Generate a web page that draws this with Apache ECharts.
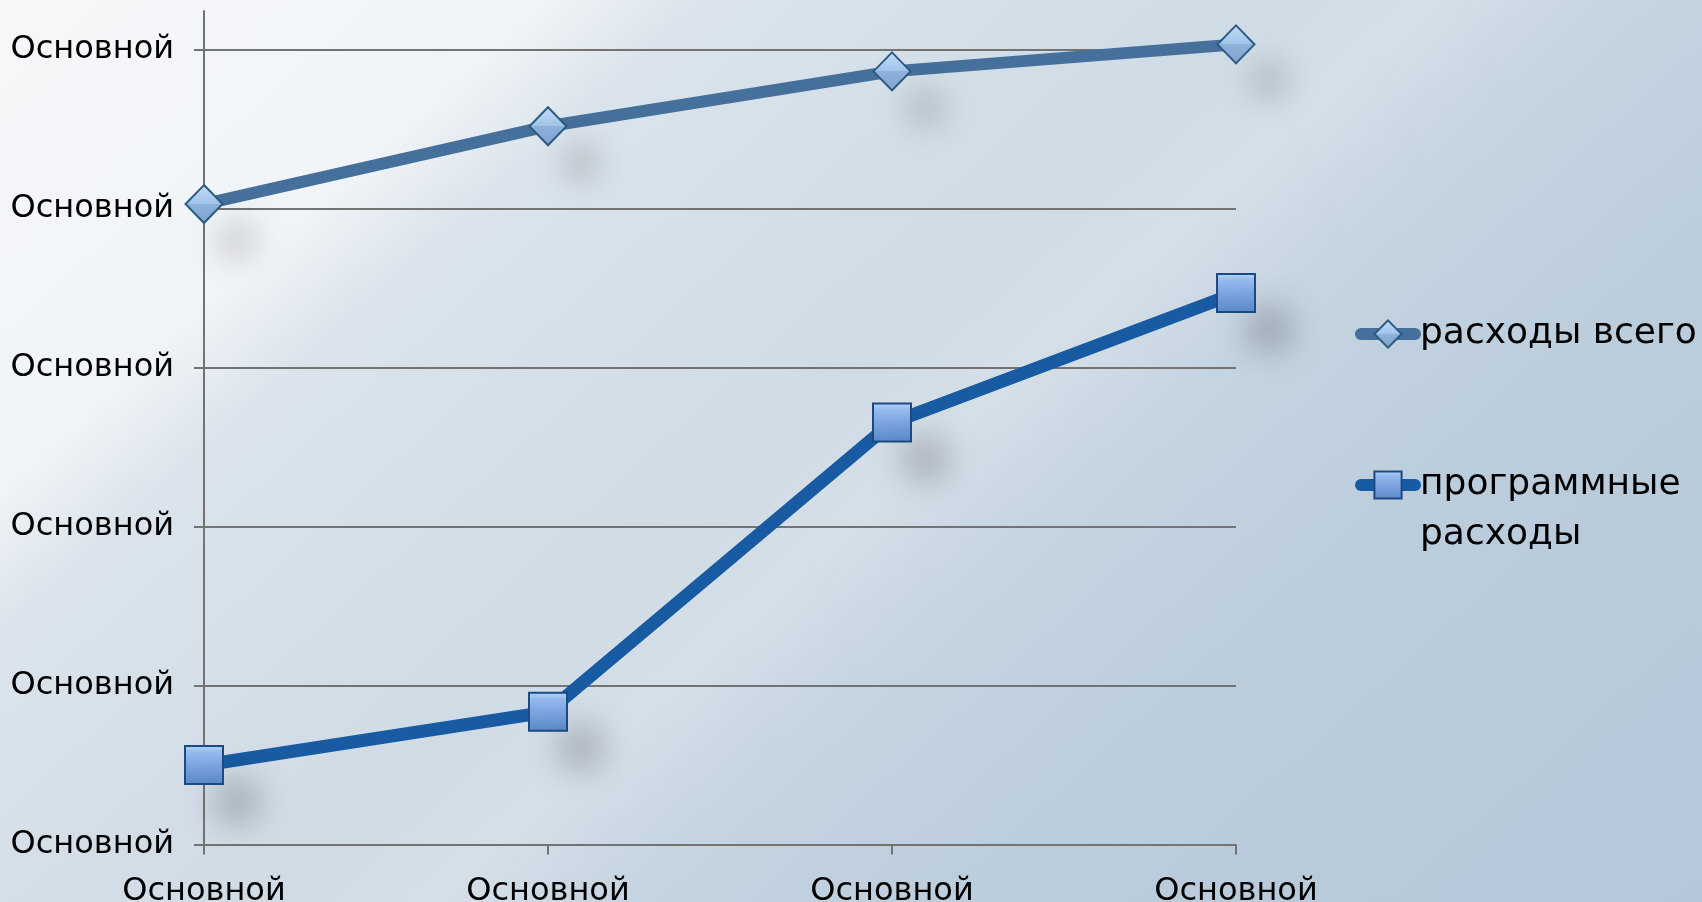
<!DOCTYPE html>
<html>
<head>
<meta charset="utf-8">
<script src="https://cdn.jsdelivr.net/npm/echarts@6/dist/echarts.min.js"></script>
<style>
html,body{margin:0;padding:0;width:1702px;height:902px;overflow:hidden;}
body{
  background: linear-gradient(138deg,
    #f5f7f9 0%, #f1f4f7 20%, #dbe4ec 26%, #d2dde7 40%, #cfdbe5 47%,
    #d5dfe8 53%, #c5d4e1 60%, #bccddc 72%, #b5c7d9 100%);
}
#chart{width:1702px;height:902px;}
</style>
</head>
<body>
<div id="chart"></div>
<script>
const categories = ['Основной', 'Основной', 'Основной', 'Основной'];
const yTickValues = [0, 1, 2, 3, 4, 5];
const yTickLabel = 'Основной';
const seriesNames = ['расходы всего', 'программные расходы'];
const totalSpending = [4.03, 4.52, 4.865, 5.035];
const programSpending = [0.50, 0.835, 2.655, 3.47];

const font = 'DejaVu Sans';
const chart = echarts.init(document.getElementById('chart'), null, {renderer: 'canvas'});

const diamondFill = {type: 'linear', x: 0, y: 0, x2: 0, y2: 1, colorStops: [
  {offset: 0, color: '#c4ddf6'}, {offset: 0.5, color: '#a0c3ea'},
  {offset: 0.5, color: '#8eb2da'}, {offset: 1, color: '#7ea3cf'}]};
const squareFill = {type: 'linear', x: 0, y: 0, x2: 0, y2: 1, colorStops: [
  {offset: 0, color: '#b9d5f7'}, {offset: 0.18, color: '#94baec'},
  {offset: 0.5, color: '#7ca4e0'}, {offset: 1, color: '#5a88c8'}]};

const noShadow = {shadowBlur: 0, shadowOffsetX: 0, shadowOffsetY: 0, shadowColor: 'rgba(0,0,0,0)'};

chart.setOption({
  backgroundColor: 'transparent',
  animation: false,
  grid: {left: 204, right: 466, top: 11, bottom: 57.5, containLabel: false, outerBoundsMode: 'none'},
  legend: [
    {
      data: [seriesNames[0]],
      left: 1350, top: 304,
      orient: 'vertical',
      itemWidth: 54, itemHeight: 34, itemGap: 0,
      textStyle: {fontFamily: font, fontSize: 36, lineHeight: 50, color: '#000'},
      itemStyle: noShadow,
      lineStyle: {width: 12, cap: 'round'}
    },
    {
      data: [seriesNames[1]],
      left: 1350, top: 405,
      orient: 'vertical',
      itemWidth: 54, itemHeight: 34, itemGap: 0,
      formatter: function (n) { return '\n' + n.replace(' ', '\n'); },
      textStyle: {fontFamily: font, fontSize: 36, lineHeight: 50, color: '#000'},
      itemStyle: noShadow,
      lineStyle: {width: 12, cap: 'round'}
    }
  ],
  xAxis: {
    type: 'category',
    data: categories,
    boundaryGap: false,
    axisLine: {show: true, lineStyle: {color: '#737373', width: 2}},
    axisTick: {show: true, length: 10, lineStyle: {color: '#737373', width: 2}},
    axisLabel: {fontFamily: font, fontSize: 32, color: '#000', margin: 31, interval: 0},
    splitLine: {show: false}
  },
  yAxis: {
    type: 'value',
    min: 0, max: 5.245, interval: 1,
    axisLine: {show: true, lineStyle: {color: '#737373', width: 2}},
    axisTick: {show: true, length: 10, customValues: yTickValues, lineStyle: {color: '#737373', width: 2}},
    axisLabel: {fontFamily: font, fontSize: 32, color: '#000', margin: 30, customValues: yTickValues,
      formatter: function () { return yTickLabel; }},
    splitLine: {show: true, lineStyle: {color: '#737373', width: 2}}
  },
  series: [
    {
      name: seriesNames[0],
      type: 'line',
      data: totalSpending,
      symbol: 'diamond',
      symbolSize: [37, 38],
      lineStyle: {color: '#44709b', width: 12, cap: 'round'},
      itemStyle: {color: diamondFill, borderColor: '#2c5a80', borderWidth: 2,
        shadowBlur: 34, shadowColor: 'rgba(0,0,0,0.24)', shadowOffsetX: 33, shadowOffsetY: 36},
      emphasis: {disabled: true},
      z: 2
    },
    {
      name: seriesNames[1],
      type: 'line',
      data: programSpending,
      symbol: 'rect',
      symbolSize: [38, 38],
      lineStyle: {color: '#185ba2', width: 13, cap: 'round'},
      itemStyle: {color: squareFill, borderColor: '#1b4a82', borderWidth: 2,
        shadowBlur: 34, shadowColor: 'rgba(0,0,0,0.24)', shadowOffsetX: 33, shadowOffsetY: 36},
      emphasis: {disabled: true},
      z: 3
    }
  ]
});
</script>
</body>
</html>
